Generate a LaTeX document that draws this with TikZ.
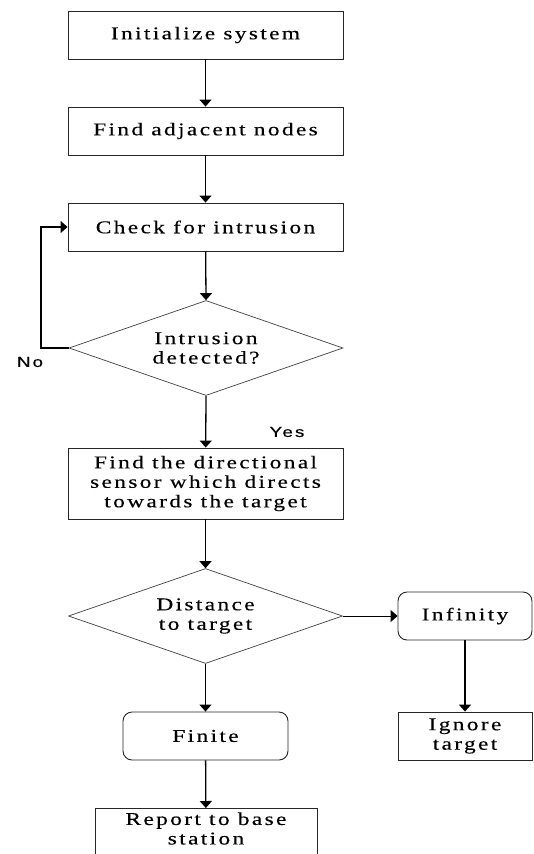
\documentclass[tikz,border=0pt]{standalone}
\usepackage{fontspec}
\setmainfont{Liberation Serif}
\newfontfamily\dfont[FakeStretch=1.3,LetterSpace=13,FakeBold=0.3]{Liberation Serif}
\newfontfamily\lfont[FakeStretch=1.3,LetterSpace=14,FakeBold=0.3]{Liberation Sans}
\usetikzlibrary{shapes.geometric,arrows.meta}
\begin{document}
\begin{tikzpicture}[x=1pt,y=-1pt,
  every node/.style={font=\dfont\fontsize{18}{19.5}\selectfont, align=center},
  box/.style={draw=black!85, line width=0.9pt, minimum width=275pt, minimum height=48pt, inner sep=2pt},
  rbox/.style={box, rounded corners=9pt},
  dec/.style={draw=black!75, line width=0.7pt, diamond, aspect=2.874, inner sep=0pt, minimum width=274pt, minimum height=95pt},
  lbl/.style={font=\lfont\fontsize{14.5}{16}\selectfont},
  arr/.style={line width=1.3pt, -{Triangle[width=12pt,length=7pt]}}
]
\useasboundingbox (0,0) rectangle (533,854);
\node[box] (init) at (205.5,35) {Initialize system};
\node[box] (adj) at (205.5,131) {Find adjacent nodes};
\node[box] (check) at (205.5,227) {Check for intrusion};
\node[dec] (d1) at (206,348) {Intrusion\\detected?};
\node[box, minimum height=71pt] (find) at (205.5,483.5) {Find the directional\\sensor which directs\\towards the target};
\node[dec] (d2) at (205.5,616) {Distance\\to target};
\node[rbox, minimum width=134pt] (inf) at (465,616) {Infinity};
\node[box, minimum width=134pt] (ign) at (465,736) {Ignore\\target};
\node[rbox, minimum width=165pt] (fin) at (205.5,736) {Finite};
\node[box, minimum width=222pt, minimum height=0pt, anchor=north, inner ysep=4pt, text depth=16pt] (rep) at (206,808) {Report to base\\station};
\node[lbl] (no) at (30,362) {No};
\node[lbl] (yes) at (287,432) {Yes};
\coordinate (lp1) at (41,348);
\coordinate (lp2) at (41,227);
\draw[arr] (init) -- (adj);
\draw[arr] (adj) -- (check);
\draw[arr] (check) -- (d1.north);
\draw[arr] (d1.south) -- (find);
\draw[arr] (find) -- (d2.north);
\draw[arr] (d2.south) -- (fin);
\draw[arr] (fin) -- (rep);
\draw[arr, line width=0.9pt] (d2.east) -- (inf.west);
\draw[arr] (inf) -- (ign);
\draw[arr] (d1.west) -- (lp1) -- (lp2) -- (check.west);
\end{tikzpicture}
\end{document}
